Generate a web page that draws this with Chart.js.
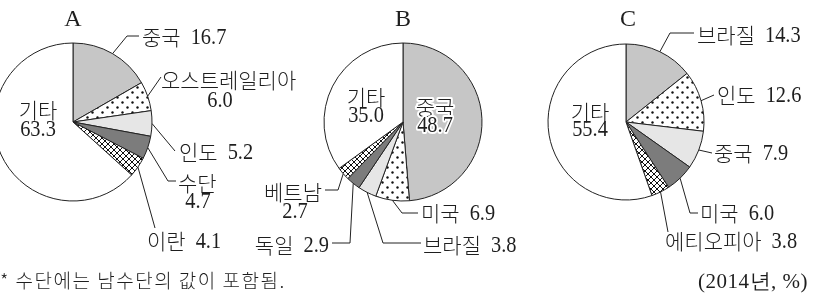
<!DOCTYPE html>
<html>
<head>
<meta charset="utf-8">
<script src="https://cdn.jsdelivr.net/npm/chart.js@4"></script>
<style>
  body { margin: 0; background: #fff; }
  #wrap { position: relative; width: 816px; height: 305px; overflow: hidden; }
  #wrap canvas { position: absolute; left: 0; top: 0; }
</style>
</head>
<body>
<div id="wrap">
  <canvas id="pieA" width="816" height="305"></canvas>
  <canvas id="pieB" width="816" height="305"></canvas>
  <canvas id="pieC" width="816" height="305"></canvas>
</div>
<script>
// data (%, 2014)
const aLabels = ['중국', '오스트레일리아', '인도', '수단', '이란', '기타'];
const aValues = [16.7, 6.0, 5.2, 4.7, 4.1, 63.3];

const bLabels = ['중국', '미국', '브라질', '독일', '베트남', '기타'];
const bValues = [48.7, 6.9, 3.8, 2.9, 2.7, 35.0];

const cLabels = ['브라질', '인도', '중국', '미국', '에티오피아', '기타'];
const cValues = [14.3, 12.6, 7.9, 6.0, 3.8, 55.4];

const titles = ['A', 'B', 'C'];
const footnote = '* 수단에는 남수단의 값이 포함됨.';
const unitNote = '(2014년, %)';

const W = 816, H = 305;
const INK = '#1e1e1e';
const KO = '"Noto Sans CJK KR", "Noto Sans", sans-serif';
const NUM = '"Liberation Serif", "DejaVu Serif", serif';
const KO_FONT = '300 21px ' + KO;
const NUM_FONT = '24px ' + NUM;
const NUM_SX = 0.85;

function makeDots() {
  const c = document.createElement('canvas');
  c.width = 10; c.height = 10;
  const g = c.getContext('2d');
  g.fillStyle = '#fff';
  g.fillRect(0, 0, 10, 10);
  g.fillStyle = '#111';
  [[2.5, 2.5], [7.5, 7.5]].forEach(p => {
    g.beginPath();
    g.arc(p[0], p[1], 1.2, 0, Math.PI * 2);
    g.fill();
  });
  return g.createPattern(c, 'repeat');
}

function makeCross() {
  const c = document.createElement('canvas');
  c.width = 6; c.height = 6;
  const g = c.getContext('2d');
  g.fillStyle = '#fff';
  g.fillRect(0, 0, 6, 6);
  g.strokeStyle = '#111';
  g.lineWidth = 1;
  g.beginPath();
  g.moveTo(-1, -1); g.lineTo(7, 7);
  g.moveTo(7, -1); g.lineTo(-1, 7);
  g.stroke();
  return g.createPattern(c, 'repeat');
}

const fills = ['#c6c6c6', makeDots(), '#e6e6e6', '#7c7c7c', makeCross(), '#ffffff'];

// label placement (page px); path = leader points after the slice edge
const layoutA = {
  cx: 73, cy: 122, r: 79, tx: 73,
  items: [
    { path: [[127, 36], [139, 36]], x: 142, y: 37, inline: true },
    { path: [[161, 77]], x: 161, y: 80, nx: 220, ny: 101 },
    { path: [[175, 151]], x: 179, y: 152, inline: true },
    { path: [[168, 181], [176, 181]], x: 178, y: 183, nx: 198, ny: 202 },
    { path: [[155, 228]], x: 147, y: 241, inline: true },
    { x: 38, y: 110, align: 'center', nx: 38, ny: 130 }
  ]
};
const layoutB = {
  cx: 403, cy: 122, r: 79, tx: 403,
  items: [
    { x: 435, y: 107, align: 'center', nx: 435, ny: 126, halo: true },
    { path: [[402, 213], [418, 213]], x: 421, y: 213, inline: true },
    { path: [[383, 243], [421, 243]], x: 423, y: 245, inline: true },
    { path: [[350, 243], [332, 243]], x: 329, y: 245, inline: true, align: 'right' },
    { path: [[338, 190], [325, 190]], x: 322, y: 192, align: 'right', nx: 295, ny: 212 },
    { x: 366, y: 97, align: 'center', nx: 366, ny: 116 }
  ]
};
const layoutC = {
  cx: 626, cy: 122, r: 78, tx: 628,
  items: [
    { path: [[670, 33], [694, 33]], x: 697, y: 35, inline: true },
    { path: [[714, 95]], x: 717, y: 95, inline: true },
    { path: [[712, 153]], x: 714, y: 153, inline: true },
    { path: [[690, 213], [698, 213]], x: 700, y: 213, inline: true },
    { path: [[668, 232]], x: 665, y: 241, inline: true },
    { x: 590, y: 112, align: 'center', nx: 590, ny: 130 }
  ]
};

function numWidth(ctx, s) {
  ctx.font = NUM_FONT;
  return ctx.measureText(s).width * NUM_SX;
}
function drawNum(ctx, s, x, y, align, halo) {
  const w = numWidth(ctx, s);
  let left = x;
  if (align === 'center') left = x - w / 2;
  if (align === 'right') left = x - w;
  ctx.save();
  ctx.translate(left, y);
  ctx.scale(NUM_SX, 1);
  ctx.font = NUM_FONT;
  ctx.textAlign = 'left';
  ctx.textBaseline = 'middle';
  if (halo) {
    ctx.strokeStyle = '#fff'; ctx.lineWidth = 4; ctx.lineJoin = 'round';
    ctx.strokeText(s, 0, 0);
  }
  ctx.fillStyle = INK;
  ctx.fillText(s, 0, 0);
  ctx.restore();
}
function drawName(ctx, s, x, y, align, halo) {
  ctx.save();
  ctx.font = KO_FONT;
  ctx.textAlign = align;
  ctx.textBaseline = 'middle';
  if (halo) {
    ctx.strokeStyle = '#fff'; ctx.lineWidth = 4; ctx.lineJoin = 'round';
    ctx.strokeText(s, x, y);
  }
  ctx.fillStyle = INK;
  ctx.fillText(s, x, y);
  ctx.restore();
}

const labelPlugin = {
  id: 'pieLabels',
  afterDatasetsDraw(chart) {
    const { ctx } = chart;
    const lay = chart.options.plugins.pieLabels.layout;
    const names = chart.data.labels;
    const vals = chart.data.datasets[0].data;
    const meta = chart.getDatasetMeta(0);
    ctx.save();
    // title
    ctx.font = '24px ' + NUM;
    ctx.fillStyle = INK;
    ctx.textAlign = 'center';
    ctx.textBaseline = 'middle';
    ctx.fillText(chart.options.plugins.pieLabels.title, lay.tx, 20);

    lay.items.forEach((it, i) => {
      const name = names[i];
      const num = vals[i].toFixed(1);
      if (it.path) {
        const arc = meta.data[i];
        const mid = (arc.startAngle + arc.endAngle) / 2;
        ctx.beginPath();
        ctx.moveTo(arc.x + Math.cos(mid) * arc.outerRadius, arc.y + Math.sin(mid) * arc.outerRadius);
        it.path.forEach(p => ctx.lineTo(p[0], p[1]));
        ctx.strokeStyle = '#222';
        ctx.lineWidth = 1;
        ctx.stroke();
      }
      const align = it.align || 'left';
      if (it.inline) {
        ctx.font = KO_FONT;
        const nw = ctx.measureText(name).width;
        const gap = 10;
        const total = nw + gap + numWidth(ctx, num);
        const left = align === 'right' ? it.x - total : it.x;
        drawName(ctx, name, left, it.y, 'left', it.halo);
        drawNum(ctx, num, left + nw + gap, it.y + 1, 'left', it.halo);
      } else {
        drawName(ctx, name, it.x, it.y, align, it.halo);
        drawNum(ctx, num, it.nx, it.ny, 'center', it.halo);
      }
    });
    ctx.restore();
  }
};

const notePlugin = {
  id: 'notes',
  afterDraw(chart) {
    const { ctx } = chart;
    ctx.save();
    ctx.fillStyle = INK;
    ctx.textBaseline = 'middle';
    ctx.font = '300 19px ' + KO;
    ctx.textAlign = 'left';
    ctx.letterSpacing = '1.5px';
    ctx.fillText(footnote, 0, 281);
    ctx.letterSpacing = '0.5px';
    ctx.font = '21px ' + NUM;
    ctx.textAlign = 'right';
    ctx.fillText(unitNote, 808, 282);
    ctx.restore();
  }
};

function makePie(id, labels, values, lay, title, extra) {
  const half = Math.min(lay.r, lay.cx, W - lay.cx);
  new Chart(document.getElementById(id), {
    type: 'pie',
    data: {
      labels: labels,
      datasets: [{
        data: values,
        backgroundColor: fills,
        borderColor: '#222',
        borderWidth: 1,
        clip: false
      }]
    },
    options: {
      responsive: false,
      animation: false,
      radius: lay.r,
      layout: {
        padding: {
          left: lay.cx - half,
          right: W - lay.cx - half,
          top: lay.cy - half,
          bottom: H - lay.cy - half
        }
      },
      plugins: {
        legend: { display: false },
        tooltip: { enabled: false },
        pieLabels: { layout: lay, title: title }
      }
    },
    plugins: extra ? [labelPlugin, notePlugin] : [labelPlugin]
  });
}

makePie('pieA', aLabels, aValues, layoutA, titles[0], true);
makePie('pieB', bLabels, bValues, layoutB, titles[1], false);
makePie('pieC', cLabels, cValues, layoutC, titles[2], false);
</script>
</body>
</html>
